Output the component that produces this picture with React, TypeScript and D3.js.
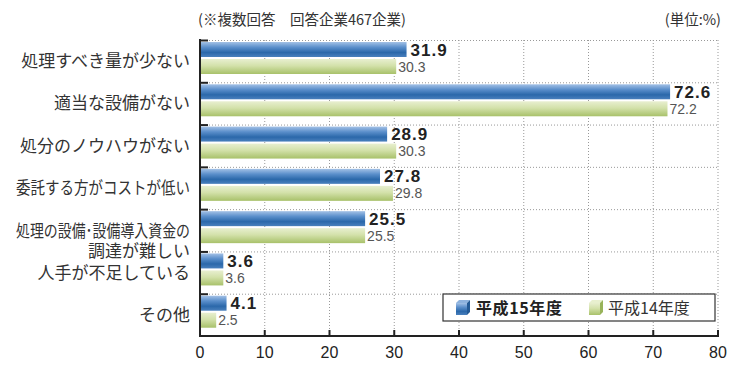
import React, { useEffect, useRef } from 'react';
import * as d3 from 'd3';

const categories = [
  ['処理すべき量が少ない'],
  ['適当な設備がない'],
  ['処分のノウハウがない'],
  ['委託する方がコストが低い'],
  ['処理の設備･設備導入資金の', '調達が難しい'],
  ['人手が不足している'],
  ['その他'],
];
const h15 = [31.9, 72.6, 28.9, 27.8, 25.5, 3.6, 4.1];
const h14 = [30.3, 72.2, 30.3, 29.8, 25.5, 3.6, 2.5];
const xTicks = [0, 10, 20, 30, 40, 50, 60, 70, 80];
const seriesNames = ['平成15年度', '平成14年度'];

const FONT = '"Noto Sans CJK JP", "Noto Sans", sans-serif';
const NUM = '"Liberation Sans", Arial, sans-serif';

export default function App() {
  const ref = useRef<SVGSVGElement>(null);

  useEffect(() => {
    const svg = d3.select(ref.current);
    svg.selectAll('*').remove();

    const left = 200, right = 718, top = 40, bottom = 336;
    const x = d3.scaleLinear().domain([0, 80]).range([left, right]);
    const y = d3.scaleBand().domain(d3.range(categories.length).map(String)).range([top, bottom]);
    const bw = y.bandwidth();

    const defs = svg.append('defs');
    const gb = defs.append('linearGradient').attr('id', 'gblue').attr('x1', 0).attr('y1', 0).attr('x2', 0).attr('y2', 1);
    gb.append('stop').attr('offset', '0%').attr('stop-color', '#a3c1e6');
    gb.append('stop').attr('offset', '35%').attr('stop-color', '#5b8fcb');
    gb.append('stop').attr('offset', '70%').attr('stop-color', '#2b68aa');
    gb.append('stop').attr('offset', '100%').attr('stop-color', '#4a80bd');
    const gg = defs.append('linearGradient').attr('id', 'ggreen').attr('x1', 0).attr('y1', 0).attr('x2', 0).attr('y2', 1);
    gg.append('stop').attr('offset', '0%').attr('stop-color', '#e8efd0');
    gg.append('stop').attr('offset', '45%').attr('stop-color', '#d3e1aa');
    gg.append('stop').attr('offset', '100%').attr('stop-color', '#a8c16a');

    // grid
    const grid = svg.append('g').attr('stroke', '#999').attr('stroke-width', 1).attr('stroke-dasharray', '1,2');
    xTicks.slice(1).forEach(t => {
      grid.append('line').attr('x1', x(t)).attr('x2', x(t)).attr('y1', top).attr('y2', bottom);
    });
    d3.range(categories.length).forEach(i => {
      grid.append('line').attr('x1', left).attr('x2', right)
        .attr('y1', (y(String(i)) as number) + 0.5).attr('y2', (y(String(i)) as number) + 0.5);
    });

    // labels that are too wide get squeezed to fit the left margin
    const maxW = 174;
    const fit = (t: d3.Selection<SVGTSpanElement, unknown, null, undefined>) => {
      const n = t.node() as SVGTextContentElement;
      if (n && n.getComputedTextLength() > maxW) {
        t.attr('textLength', maxW).attr('lengthAdjust', 'spacingAndGlyphs');
      }
    };

    // bars
    const g = svg.append('g');
    categories.forEach((c, i) => {
      const y0 = y(String(i)) as number;
      g.append('rect').attr('x', x(0)).attr('y', y0 + 2).attr('width', x(h15[i]) - x(0)).attr('height', 15)
        .attr('fill', 'url(#gblue)');
      g.append('rect').attr('x', x(0)).attr('y', y0 + 19).attr('width', x(h14[i]) - x(0)).attr('height', 15)
        .attr('fill', 'url(#ggreen)');
      g.append('text').attr('x', x(h15[i]) + 4).attr('y', y0 + 15.5).attr('font-family', NUM)
        .attr('font-size', 17).attr('font-weight', 'bold').attr('fill', '#222').attr('letter-spacing', 1)
        .text(h15[i].toFixed(1));
      g.append('text').attr('x', x(h14[i]) + 2).attr('y', y0 + 31.5).attr('font-family', NUM)
        .attr('font-size', 14).attr('fill', '#555')
        .text(h14[i].toFixed(1));

      // category label
      const lab = svg.append('text').attr('text-anchor', 'end').attr('font-family', FONT)
        .attr('font-size', 17).attr('fill', '#333');
      if (c.length === 1) {
        fit(lab.append('tspan').attr('x', 190).attr('y', y0 + bw / 2 + 6).text(c[0]));
      } else {
        fit(lab.append('tspan').attr('x', 190).attr('y', y0 + bw / 2 + 7).text(c[0]));
        fit(lab.append('tspan').attr('x', 190).attr('y', y0 + bw / 2 + 27).text(c[1]));
      }
    });

    // axes
    const ax = svg.append('g').attr('stroke', '#222');
    ax.append('line').attr('x1', left).attr('x2', left).attr('y1', top - 1).attr('y2', bottom + 1).attr('stroke-width', 2);
    ax.append('line').attr('x1', left - 1).attr('x2', right + 1).attr('y1', bottom).attr('y2', bottom).attr('stroke-width', 2);
    d3.range(categories.length).forEach(i => {
      const yy = (y(String(i)) as number) + 0.5;
      ax.append('line').attr('x1', left).attr('x2', left + 8).attr('y1', yy).attr('y2', yy).attr('stroke-width', 2);
    });
    xTicks.forEach(t => {
      ax.append('line').attr('x1', x(t)).attr('x2', x(t)).attr('y1', bottom - 6).attr('y2', bottom).attr('stroke-width', 2);
      svg.append('text').attr('x', x(t)).attr('y', bottom + 22).attr('text-anchor', 'middle')
        .attr('font-family', NUM).attr('font-size', 16).attr('fill', '#222').text(t);
    });

    // header
    svg.append('text').attr('x', 198).attr('y', 25).attr('font-family', FONT).attr('font-size', 14.5).attr('fill', '#333')
      .text('(※複数回答　回答企業467企業)');
    svg.append('text').attr('x', 721).attr('y', 25).attr('text-anchor', 'end').attr('font-family', FONT)
      .attr('font-size', 14.5).attr('fill', '#333').text('(単位:%)');

    // legend
    const lg = svg.append('g').attr('transform', 'translate(443,294)');
    lg.append('rect').attr('width', 272).attr('height', 27).attr('fill', '#fff').attr('stroke', '#333').attr('stroke-width', 1.2);
    const cube = (gx: number, fill: string, light: string, dark: string) => {
      const c = lg.append('g').attr('transform', `translate(${gx},6)`);
      c.append('path').attr('d', 'M0,3 L3,0 L14,0 L11,3 Z').attr('fill', light);
      c.append('path').attr('d', 'M11,3 L14,0 L14,12 L11,15 Z').attr('fill', dark);
      c.append('rect').attr('x', 0).attr('y', 3).attr('width', 11).attr('height', 12).attr('fill', fill);
    };
    cube(13, 'url(#gblue)', '#8db2de', '#235a96');
    cube(146, 'url(#ggreen)', '#e8f0cf', '#98b35a');
    lg.append('text').attr('x', 33).attr('y', 20).attr('font-family', FONT).attr('font-size', 16)
      .attr('font-weight', 'bold').attr('fill', '#222').attr('letter-spacing', 0.6).text(seriesNames[0]);
    lg.append('text').attr('x', 165).attr('y', 20).attr('font-family', FONT).attr('font-size', 16)
      .attr('fill', '#333').text(seriesNames[1]);
  }, []);

  return (
    <svg ref={ref} width={750} height={375}
      style={{ position: 'absolute', left: 0, top: 0, background: '#fff' }} />
  );
}
